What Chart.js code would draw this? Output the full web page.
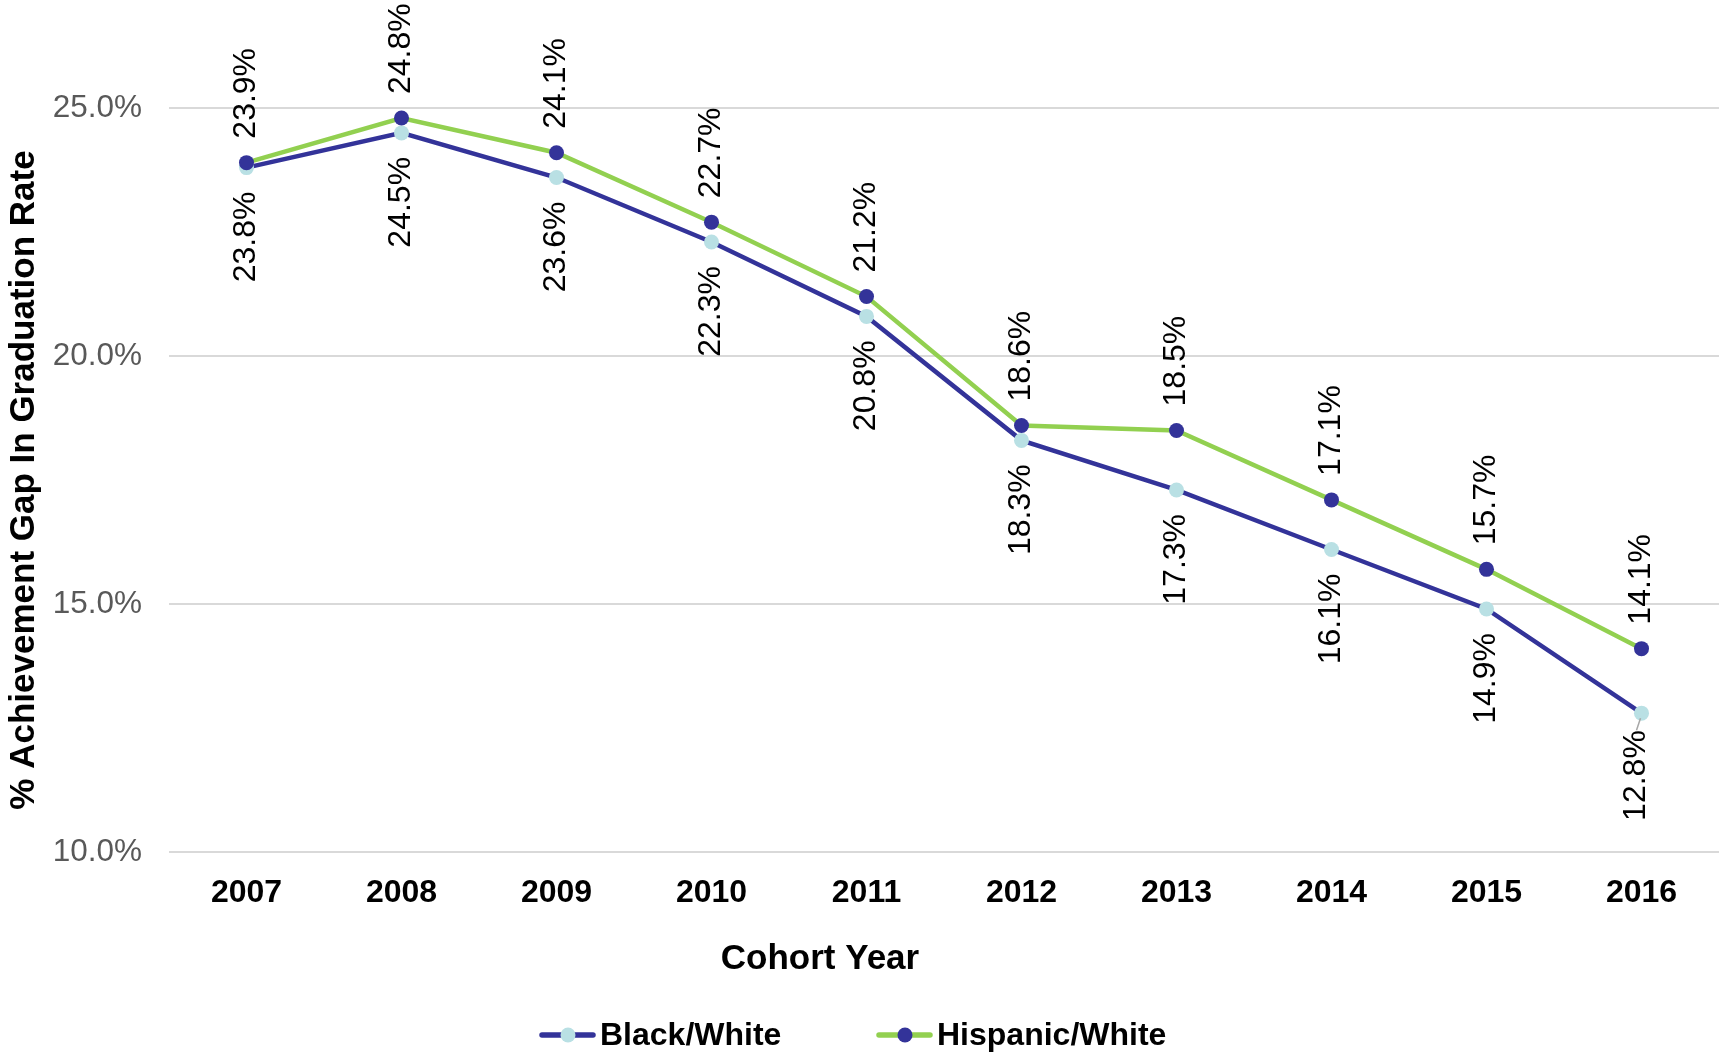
<!DOCTYPE html>
<html>
<head>
<meta charset="utf-8">
<script src="https://cdn.jsdelivr.net/npm/chart.js@4.4.0/dist/chart.umd.min.js"></script>
<style>
  html, body { margin: 0; padding: 0; background: #fff; }
  #wrap { width: 1719px; height: 1053px; }
</style>
</head>
<body>
<div id="wrap"><canvas id="gapChart" width="1719" height="1053"></canvas></div>
<script>
const cohortYears = ['2007', '2008', '2009', '2010', '2011', '2012', '2013', '2014', '2015', '2016'];
const blackWhiteGap = [23.8, 24.5, 23.6, 22.3, 20.8, 18.3, 17.3, 16.1, 14.9, 12.8];
const hispanicWhiteGap = [23.9, 24.8, 24.1, 22.7, 21.2, 18.6, 18.5, 17.1, 15.7, 14.1];
const yTickValues = [10, 15, 20, 25];

const NAVY = '#333399';
const GREEN = '#92d050';
const PALE = '#b9e0e4';
const SANS = '"Liberation Sans", Arial, sans-serif';
const NARROW = '"Liberation Sans Narrow", "Arial Narrow", "Liberation Sans", sans-serif';

// value labels, rotated so they read bottom-to-top
const valueLabels = {
    id: 'valueLabels',
    afterDatasetsDraw(chart) {
        const ctx = chart.ctx;
        ctx.save();
        ctx.font = '32px ' + SANS;
        ctx.fillStyle = '#000';
        ctx.textBaseline = 'middle';
        chart.data.datasets.forEach((ds, di) => {
            const below = ds.labelSide === 'below';
            chart.getDatasetMeta(di).data.forEach((pt, i) => {
                let x = pt.x, gap = 24;
                // last black/white label sits on a small leader line
                if (below && i === ds.data.length - 1) {
                    gap = 17;
                    ctx.save();
                    ctx.strokeStyle = '#a6a6a6';
                    ctx.lineWidth = 1.5;
                    ctx.beginPath();
                    ctx.moveTo(pt.x - 1, pt.y + 5);
                    ctx.lineTo(pt.x - 5, pt.y + 17);
                    ctx.stroke();
                    ctx.restore();
                    x -= 5;
                }
                ctx.save();
                ctx.translate(x, pt.y);
                ctx.rotate(-Math.PI / 2);
                ctx.textAlign = below ? 'right' : 'left';
                ctx.fillText(ds.data[i].toFixed(1) + '%', below ? -gap : gap, 0);
                ctx.restore();
            });
        });
        ctx.restore();
    }
};

// axis titles and the legend
const chartText = {
    id: 'chartText',
    afterDraw(chart) {
        const ctx = chart.ctx;
        ctx.save();
        ctx.fillStyle = '#000';
        ctx.font = 'bold 35px ' + SANS;
        ctx.textAlign = 'center';
        ctx.textBaseline = 'middle';
        ctx.fillText('Cohort Year', 820, 959);
        ctx.save();
        ctx.translate(24, 480);
        ctx.rotate(-Math.PI / 2);
        ctx.fillText('% Achievement Gap In Graduation Rate', 0, 0);
        ctx.restore();

        const legendY = 1035;
        const legendX = [539, 876];
        ctx.font = 'bold 32px ' + SANS;
        ctx.textAlign = 'left';
        chart.data.datasets.forEach((ds, i) => {
            const x = legendX[i];
            ctx.strokeStyle = ds.borderColor;
            ctx.lineWidth = 5.5;
            ctx.lineCap = 'round';
            ctx.beginPath();
            ctx.moveTo(x + 3, legendY);
            ctx.lineTo(x + 54, legendY);
            ctx.stroke();
            ctx.fillStyle = ds.pointBackgroundColor;
            ctx.beginPath();
            ctx.arc(x + 29, legendY, 7.5, 0, Math.PI * 2);
            ctx.fill();
            ctx.fillStyle = '#000';
            ctx.fillText(ds.label, x + 61, legendY + 1);
        });
        ctx.restore();
    }
};

new Chart(document.getElementById('gapChart'), {
    type: 'line',
    data: {
        labels: cohortYears,
        datasets: [
            {
                label: 'Black/White', data: blackWhiteGap, labelSide: 'below', order: 1,
                borderColor: NAVY, borderWidth: 4.5,
                pointBackgroundColor: PALE, pointBorderColor: PALE, pointRadius: 7.5, pointBorderWidth: 0
            },
            {
                label: 'Hispanic/White', data: hispanicWhiteGap, labelSide: 'above', order: 0,
                borderColor: GREEN, borderWidth: 4.5,
                pointBackgroundColor: NAVY, pointBorderColor: NAVY, pointRadius: 7.5, pointBorderWidth: 0
            }
        ]
    },
    options: {
        responsive: false,
        animation: false,
        devicePixelRatio: 1,
        layout: { padding: 0, autoPadding: false },
        plugins: { legend: { display: false }, tooltip: { enabled: false } },
        scales: {
            x: {
                offset: true,
                grid: { display: false, drawTicks: false },
                border: { display: false },
                ticks: { color: '#000', padding: 22, maxRotation: 0, font: { family: NARROW, size: 32, weight: 'bold' } },
                afterFit(s) { s.height = 201; s.paddingLeft = 0; s.paddingRight = 0; }
            },
            y: {
                min: 10, max: 27.18,
                grid: { color: '#d9d9d9', lineWidth: 2, drawTicks: false },
                border: { display: false },
                ticks: {
                    color: '#595959', padding: 27, font: { family: SANS, size: 31.5 },
                    callback: v => v.toFixed(1) + '%'
                },
                afterBuildTicks(s) { s.ticks = yTickValues.map(v => ({ value: v })); },
                afterFit(s) { s.width = 169; s.paddingTop = 0; s.paddingBottom = 0; }
            }
        }
    },
    plugins: [valueLabels, chartText]
});
</script>
</body>
</html>
